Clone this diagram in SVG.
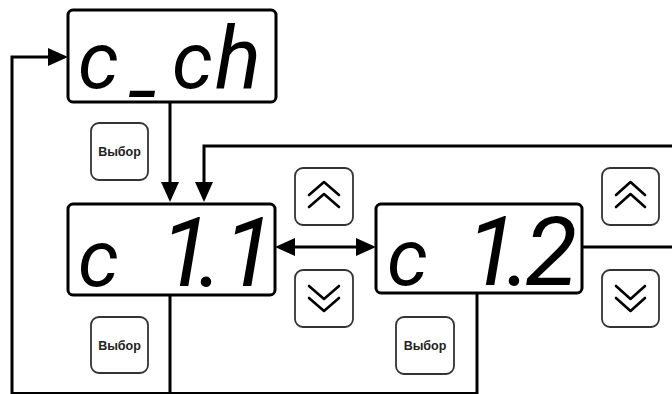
<svg xmlns="http://www.w3.org/2000/svg" width="672" height="394" viewBox="0 0 672 394">
<style>
.disp{fill:#fff;stroke:#000;stroke-width:3}
.btn{fill:#fff;stroke:#333;stroke-width:1.8}
.seg{font-family:Roboto,"Liberation Sans",sans-serif;font-style:italic;font-weight:normal;fill:#000}
.lbl{font-family:"Liberation Sans",Arial,sans-serif;font-weight:bold;font-size:12.5px;fill:#222;text-anchor:middle}
.chev{fill:none;stroke:#000;stroke-width:2.6;stroke-linecap:round;stroke-linejoin:round}
.con{fill:none;stroke:#000;stroke-width:3}
</style>
<defs>
<marker id="ah" markerUnits="userSpaceOnUse" markerWidth="20" markerHeight="18" refX="14" refY="9" orient="auto-start-reverse" viewBox="0 0 20 18">
<path d="M0,0 L20,9 L0,18 z" fill="#000"/>
</marker>
</defs>
<rect width="672" height="394" fill="#fff"/>
<g id="connectors">
<path class="con" d="M170,295 V393.5 M477,293 V393.5 H12 V57 H62" marker-end="url(#ah)"/>
<path class="con" d="M170,102 V196" marker-end="url(#ah)"/>
<path class="con" d="M672,146 H204 V196" marker-end="url(#ah)"/>
<path class="con" d="M281,247 H370" marker-start="url(#ah)" marker-end="url(#ah)"/>
<path class="con" d="M582,247 H672"/>
</g>
<g id="disp_c_ch">
<rect class="disp" x="68" y="10" width="208" height="92" rx="5"/>
<text class="seg" y="88"><tspan x="78" font-size="80">c</tspan><tspan x="133" y="91" font-size="58" font-weight="bold">_</tspan><tspan x="172" y="88" font-size="80">c</tspan><tspan x="215" font-size="86">h</tspan></text>
</g>
<g id="disp_c11">
<rect class="disp" x="68" y="204" width="207" height="91" rx="5"/>
<text class="seg" y="286"><tspan x="78" font-size="80">c</tspan><tspan x="160" font-size="96" dx="0 -14 0">1.1</tspan></text>
</g>
<g id="disp_c12">
<rect class="disp" x="376" y="204" width="206" height="89" rx="5"/>
<text class="seg" y="285"><tspan x="387" font-size="80">c</tspan><tspan x="466" font-size="96" dx="0 -12 -6">1.2</tspan></text>
</g>
<g id="btn_select1">
<rect class="btn" x="91" y="123" width="57" height="57" rx="8"/>
<text class="lbl" x="119.5" y="156">Выбор</text>
</g>
<g id="btn_select2">
<rect class="btn" x="91" y="317" width="57" height="56" rx="8"/>
<text class="lbl" x="119.5" y="350">Выбор</text>
</g>
<g id="btn_select3">
<rect class="btn" x="396" y="317" width="58" height="57" rx="8"/>
<text class="lbl" x="425" y="350">Выбор</text>
</g>
<g id="btn_up1">
<rect class="btn" x="295" y="168" width="58" height="57" rx="8"/>
<path class="chev" d="M309,195 L324,182 L339,195 M309,207 L324,194 L339,207"/>
</g>
<g id="btn_down1">
<rect class="btn" x="295" y="270" width="58" height="57" rx="8"/>
<path class="chev" d="M309,286 L324,299 L339,286 M309,298 L324,311 L339,298"/>
</g>
<g id="btn_up2">
<rect class="btn" x="602" y="168" width="57" height="57" rx="8"/>
<path class="chev" d="M616,195 L630.5,182 L645,195 M616,207 L630.5,194 L645,207"/>
</g>
<g id="btn_down2">
<rect class="btn" x="602" y="270" width="57" height="57" rx="8"/>
<path class="chev" d="M616,286 L630.5,299 L645,286 M616,298 L630.5,311 L645,298"/>
</g>
</svg>
